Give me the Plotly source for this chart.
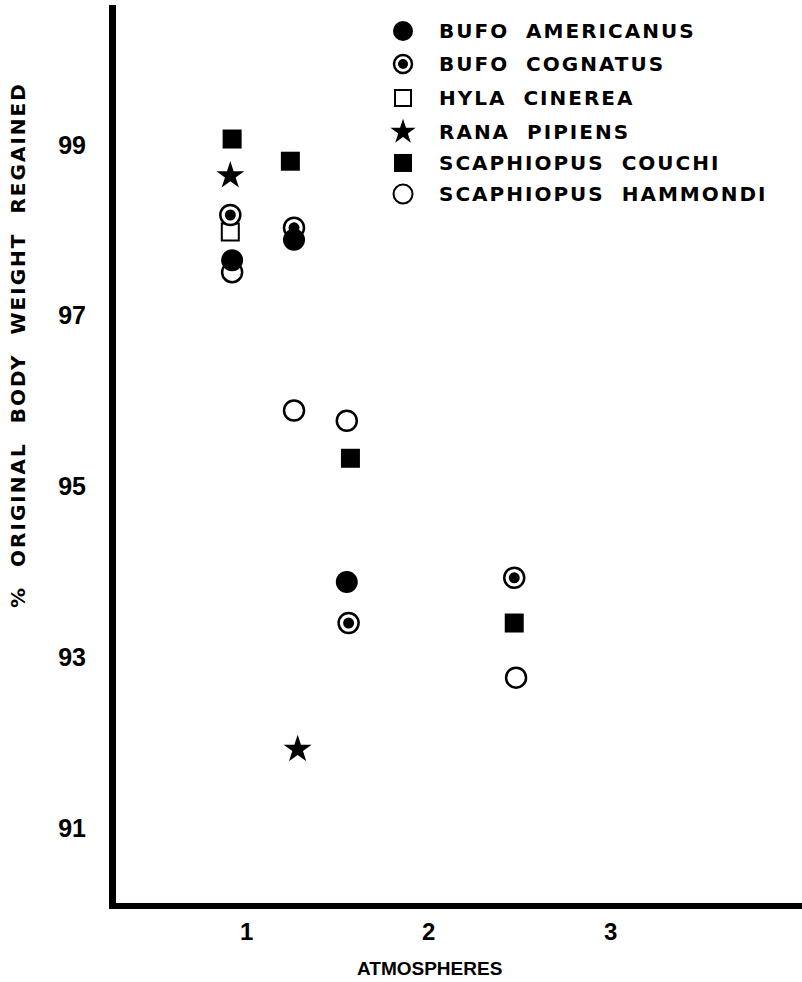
import plotly.graph_objects as go

# ---------------- data ----------------
SPECIES = ["BUFO AMERICANUS", "BUFO COGNATUS", "HYLA CINEREA",
           "RANA PIPIENS", "SCAPHIOPUS COUCHI", "SCAPHIOPUS HAMMONDI"]

americanus_x = [0.92, 1.26, 1.55]
americanus_y = [97.65, 97.89, 93.88]

cognatus_x = [0.91, 1.26, 1.56, 2.47]
cognatus_y = [98.18, 98.03, 93.40, 93.93]

hyla_x = [0.91]
hyla_y = [97.98]

rana_x = [0.91, 1.28]
rana_y = [98.64, 91.92]

couchi_x = [0.92, 1.24, 1.57, 2.47]
couchi_y = [99.07, 98.81, 95.33, 93.40]

hammondi_x = [0.92, 1.26, 1.55, 2.48]
hammondi_y = [97.51, 95.89, 95.77, 92.76]

X_TICKS = [1, 2, 3]
Y_TICKS = [91, 93, 95, 97, 99]
X_TITLE = "ATMOSPHERES"
Y_TITLE = "% ORIGINAL BODY WEIGHT REGAINED"

# ---------------- layout constants ----------------
W, H = 802, 982
L, R, T, B = 116, 0, 5, 79
X_RANGE = [0.282, 4.051]
Y_RANGE = [90.12, 100.64]
INK = "black"
FONT = "DejaVu Sans"
TICKFONT = "Liberation Sans"

fig = go.Figure()

def add(x, y, symbol, size, fill, lw=0, xa="x", ya="y"):
    fig.add_trace(go.Scatter(
        x=x, y=y, mode="markers", xaxis=xa, yaxis=ya, showlegend=False,
        hoverinfo="skip",
        marker=dict(symbol=symbol, size=size, color=fill,
                    line=dict(color=INK, width=lw))))

# data marks (drawing order matters for overlaps)
add(hammondi_x, hammondi_y, "circle", 20, "white", 2.5)
add(hyla_x, hyla_y, "square", 17, "white", 2)
add(cognatus_x, cognatus_y, "circle", 20, "white", 2.5)
add(cognatus_x, cognatus_y, "circle", 11, INK)
add(americanus_x, americanus_y, "circle", 22, INK)
add(couchi_x, couchi_y, "square", 19, INK)
add(rana_x, rana_y, "star", 21, INK)

# ---------------- custom legend (paper-fraction overlay axes) ----------------
LEG_SYM_X = 0.4184
LEG_TXT_X = 0.468
LEG_ROWS = [0.9710, 0.9343, 0.8964, 0.8586, 0.8241, 0.7895]
leg_styles = [
    [("circle", 20, INK, 0)],
    [("circle", 18, "white", 2.5), ("circle", 10, INK, 0)],
    [("square", 16, "white", 2)],
    [("star", 19, INK, 0)],
    [("square", 18, INK, 0)],
    [("circle", 19, "white", 2)],
]
for row, styles in zip(LEG_ROWS, leg_styles):
    for sym, sz, fill, lw in styles:
        add([LEG_SYM_X], [row], sym, sz, fill, lw, xa="x2", ya="y2")

LS = "letter-spacing:2px;word-spacing:8px"
annotations = []
for name, row in zip(SPECIES, LEG_ROWS):
    annotations.append(dict(
        x=LEG_TXT_X, y=row, xref="paper", yref="paper",
        xanchor="left", yanchor="middle", showarrow=False,
        text=f'<span style="{LS}">{name}</span>',
        font=dict(family=FONT, size=20, color=INK, weight="bold")))

# axis titles
annotations.append(dict(
    x=-0.1429, y=0.6214, xref="paper", yref="paper", textangle=-90,
    xanchor="center", yanchor="middle", showarrow=False,
    text=f'<span style="letter-spacing:2px;word-spacing:10px">{Y_TITLE}</span>',
    font=dict(family=FONT, size=20, color=INK, weight="bold")))
annotations.append(dict(
    x=0.4577, y=-0.0724, xref="paper", yref="paper",
    xanchor="center", yanchor="middle", showarrow=False,
    text=X_TITLE,
    font=dict(family=TICKFONT, size=19, color=INK, weight="bold")))

fig.update_layout(
    width=W, height=H,
    margin=dict(l=L, r=R, t=T, b=B, pad=0),
    paper_bgcolor="white", plot_bgcolor="white",
    annotations=annotations,
    xaxis=dict(range=X_RANGE, tickvals=X_TICKS, ticktext=[str(v) for v in X_TICKS],
               showgrid=False, zeroline=False, showline=True, linecolor=INK,
               linewidth=6, ticks="outside", ticklen=2,
               tickcolor="rgba(0,0,0,0)",
               tickfont=dict(family=TICKFONT, size=24, color=INK, weight="bold")),
    yaxis=dict(range=Y_RANGE, tickvals=Y_TICKS, ticktext=[str(v) for v in Y_TICKS],
               showgrid=False, zeroline=False, showline=True, linecolor=INK,
               linewidth=7, ticks="outside", ticklen=18,
               tickcolor="rgba(0,0,0,0)",
               tickfont=dict(family=TICKFONT, size=25, color=INK, weight="bold")),
    xaxis2=dict(overlaying="x", range=[0, 1], visible=False, fixedrange=True),
    yaxis2=dict(overlaying="y", range=[0, 1], visible=False, fixedrange=True),
)

fig.write_html("out.html")
